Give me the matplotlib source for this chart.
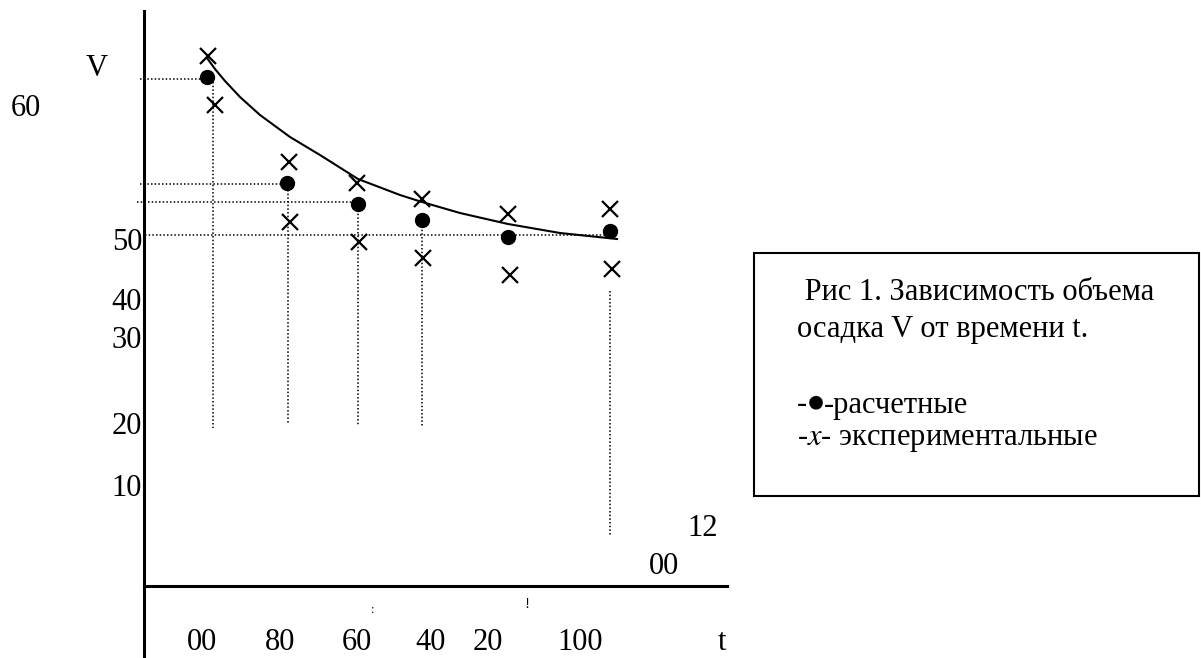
import matplotlib.pyplot as plt
from matplotlib.patches import Rectangle

plt.rcParams['font.family'] = ['Liberation Serif', 'DejaVu Serif']
plt.rcParams['mathtext.fontset'] = 'stix'

# values (image frame: x to the right, y downwards)
t_pts = [207, 287, 358, 422, 508, 610]
v_calc = [77, 183, 204, 220, 237, 231]
t_exp_hi = [208, 289, 357, 422, 508, 610]
v_exp_hi = [56, 162, 183, 199, 214, 209]
t_exp_lo = [215, 290, 359, 423, 510, 612]
v_exp_lo = [105, 222, 242, 258, 275, 269]

curve_t = [207, 215, 225, 240, 260, 290, 320, 358, 400, 422, 460, 508, 560, 617]
curve_v = [58, 69, 81, 97, 115, 137, 155, 179, 195, 202, 213, 224, 233, 239]

# dotted guides: horizontal (y, x_from, x_to) and vertical (x, y_from, y_to)
h_guides = [(79, 140, 207), (184, 140, 287), (202, 137, 358), (235, 145, 617)]
v_guides = [(213, 82, 428), (288, 190, 423), (358, 210, 426), (422, 226, 427), (610, 291, 536)]

y_labels = ['50', '40', '30', '20', '10']
y_label_pos = [243, 302, 340, 427, 488]
x_labels = ['00', '80', '60', '40', '20', '100', 't']
x_label_pos = [202, 280, 357, 431, 488, 580, 722]

fig = plt.figure(figsize=(12.01, 6.58), dpi=100)
ax = fig.add_axes([0, 0, 1, 1])
ax.set_xlim(0, 1201)
ax.set_ylim(658, 0)
ax.axis('off')

# axes cross
ax.plot([144, 144], [11, 658], color='k', lw=2.2)
ax.plot([144, 727], [586, 586], color='k', lw=2.2)

dot = (0, (1, 1.4))
for y, x0, x1 in h_guides:
    ax.plot([x0, x1], [y, y], color='k', lw=1.1, linestyle=dot)
for x, y0, y1 in v_guides:
    ax.plot([x, x], [y0, y1], color='k', lw=1.1, linestyle=dot)

ax.plot(curve_t, curve_v, color='k', lw=1.5)
ax.plot(t_pts, v_calc, 'o', color='k', ms=10)
ax.plot(t_exp_hi, v_exp_hi, 'x', color='k', ms=12, mew=1.6)
ax.plot(t_exp_lo, v_exp_lo, 'x', color='k', ms=12, mew=1.6)

fs = 22
ax.text(97, 68, 'V', fontsize=fs, ha='center', va='center')
ax.text(26, 108, '60', fontsize=fs, ha='center', va='center')
for lab, y in zip(y_labels, y_label_pos):
    ax.text(142, y, lab, fontsize=fs, ha='right', va='center')
for lab, x in zip(x_labels, x_label_pos):
    ax.text(x, 643, lab, fontsize=fs, ha='center', va='center')
ax.text(703, 528, '12', fontsize=fs, ha='center', va='center')
ax.text(664, 567, '00', fontsize=fs, ha='center', va='center')
ax.text(373, 610, ':', fontsize=9, ha='center', va='center')
ax.text(527, 605, '!', fontsize=11, ha='center', va='center')

# caption box
ax.add_patch(Rectangle((754, 253), 445, 243, fill=False, ec='k', lw=1.5))
ax.text(797, 293, ' Рис 1. Зависимость объема', fontsize=fs, ha='left', va='center')
ax.text(797, 330, 'осадка V от времени t.', fontsize=fs, ha='left', va='center')
ax.text(797, 405, '-', fontsize=fs, ha='left', va='center')
ax.text(816, 402, '●', fontsize=13, ha='center', va='center', family='DejaVu Sans',
        rotation=30)
ax.text(824, 405, '-расчетные', fontsize=fs, ha='left', va='center')
ax.text(797, 440, '-$x$- экспериментальные', fontsize=fs, ha='left', va='center')

fig.savefig('out.png', dpi=100)
